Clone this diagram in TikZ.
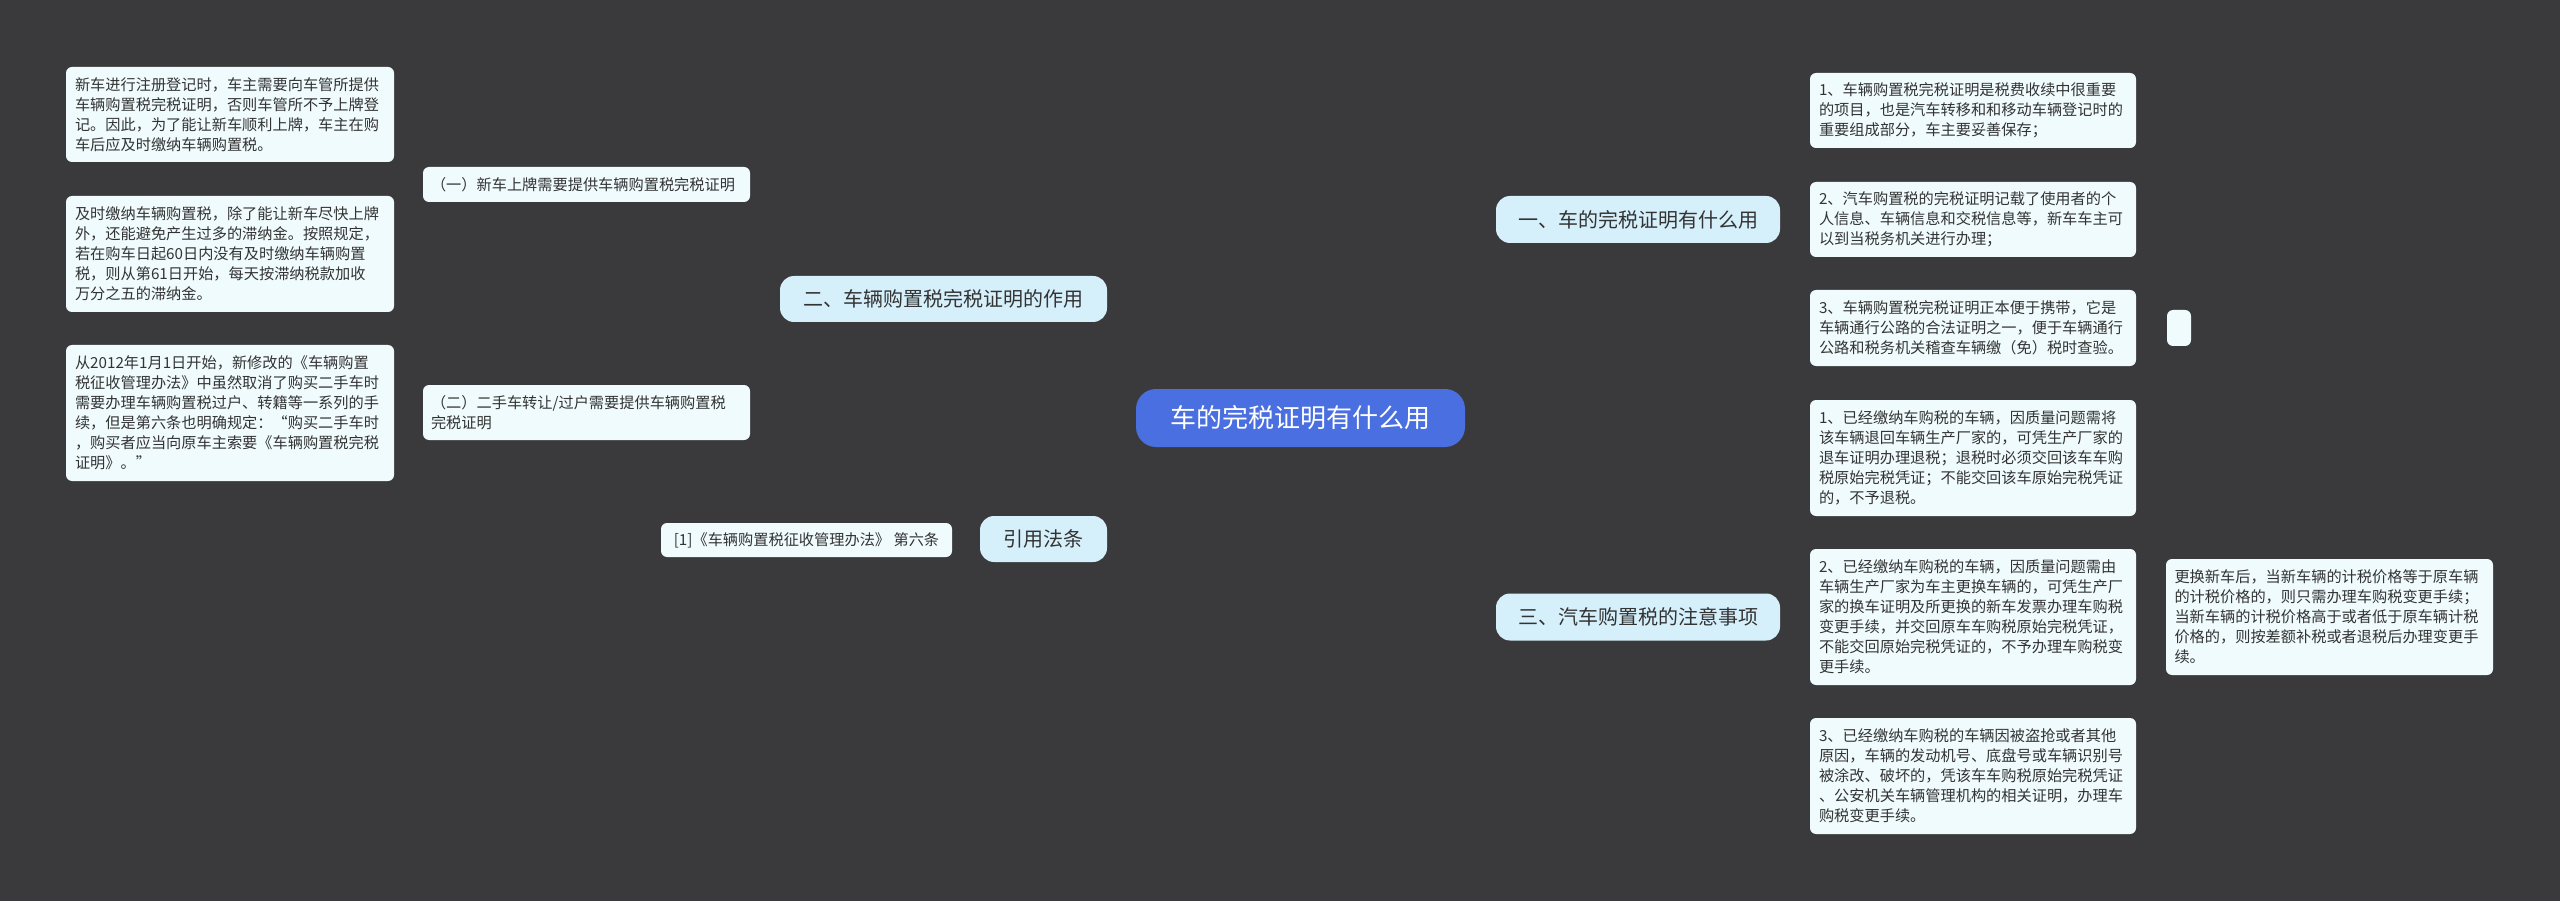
\documentclass[tikz,border=0pt]{standalone}
\usepackage{fontspec}
\setmainfont{Noto Sans CJK SC}
\usetikzlibrary{backgrounds}
\definecolor{bg}{HTML}{3A3A3C}
\definecolor{ln}{HTML}{5B78E0}
\definecolor{leaf}{HTML}{F0FBFD}
\definecolor{br}{HTML}{D6F0FB}
\definecolor{rt}{HTML}{4A6FE0}
\definecolor{tx}{HTML}{333333}
\tikzset{
 box/.style={rounded corners=6pt,inner sep=0pt,anchor=center,text=tx},
 leafbox/.style={box,fill=leaf,align=left,font=\fontsize{15.2}{20}\selectfont},
 subbox/.style={box,fill=leaf,align=left,font=\fontsize{15.2}{20}\selectfont},
 brbox/.style={box,fill=br,rounded corners=14pt,font=\fontsize{20}{24}\selectfont},
 conn/.style={draw=ln,line width=2.2pt,rounded corners=9pt},
}
\newcommand{\lbox}[6]{\node[leafbox,minimum width=#3,minimum height=#4,text width=#5] (#1) at #2 {#6};}
\begin{document}
\begin{tikzpicture}[x=1pt,y=-1pt]
\fill[bg] (0,0) rectangle (2560,901);
\useasboundingbox (0,0) rectangle (2560,901);
% root and branches
\node[box,fill=rt,text=white,rounded corners=20pt,minimum width=329,minimum height=58,font=\fontsize{26}{30}\selectfont] (root) at (1300.5,418) {车的完税证明有什么用};
\node[brbox,minimum width=284,minimum height=47] (b1) at (1638,219.5) {一、车的完税证明有什么用};
\node[brbox,minimum width=284,minimum height=47] (b3) at (1638,617) {三、汽车购置税的注意事项};
\node[brbox,minimum width=327,minimum height=46] (b2) at (943.5,299) {二、车辆购置税完税证明的作用};
\node[brbox,minimum width=127,minimum height=46] (ref) at (1043.5,539) {引用法条};
\node[subbox,minimum width=291,minimum height=34,align=center] (refl) at (806.5,540) {[1]《车辆购置税征收管理办法》 第六条};
% right leaves
\lbox{r1}{(1973,110.5)}{326}{75}{308}{1、车辆购置税完税证明是税费收续中很重要\\的项目，也是汽车转移和和移动车辆登记时的\\重要组成部分，车主要妥善保存；}
\lbox{r2}{(1973,219.5)}{326}{75}{308}{2、汽车购置税的完税证明记载了使用者的个\\人信息、车辆信息和交税信息等，新车车主可\\以到当税务机关进行办理；}
\lbox{r3}{(1973,328)}{326}{76}{308}{3、车辆购置税完税证明正本便于携带，它是\\车辆通行公路的合法证明之一，便于车辆通行\\公路和税务机关稽查车辆缴（免）税时查验。}
\node[box,fill=leaf,minimum width=24,minimum height=36] (emp) at (2179,328) {};
\lbox{s1}{(1973,458)}{326}{116}{308}{1、已经缴纳车购税的车辆，因质量问题需将\\该车辆退回车辆生产厂家的，可凭生产厂家的\\退车证明办理退税；退税时必须交回该车车购\\税原始完税凭证；不能交回该车原始完税凭证\\的，不予退税。}
\lbox{s2}{(1973,617)}{326}{136}{308}{2、已经缴纳车购税的车辆，因质量问题需由\\车辆生产厂家为车主更换车辆的，可凭生产厂\\家的换车证明及所更换的新车发票办理车购税\\变更手续，并交回原车车购税原始完税凭证，\\不能交回原始完税凭证的，不予办理车购税变\\更手续。}
\lbox{s3}{(1973,776)}{326}{116}{308}{3、已经缴纳车购税的车辆因被盗抢或者其他\\原因，车辆的发动机号、底盘号或车辆识别号\\被涂改、破坏的，凭该车车购税原始完税凭证\\、公安机关车辆管理机构的相关证明，办理车\\购税变更手续。}
\lbox{s2r}{(2329.5,617)}{327}{116}{310}{更换新车后，当新车辆的计税价格等于原车辆\\的计税价格的，则只需办理车购税变更手续；\\当新车辆的计税价格高于或者低于原车辆计税\\价格的，则按差额补税或者退税后办理变更手\\续。}
% left
\node[subbox,minimum width=327,minimum height=35,text width=311] (u1) at (586.5,184.5) {（一）新车上牌需要提供车辆购置税完税证明};
\node[subbox,minimum width=327,minimum height=55,text width=311] (u2) at (586.5,412.5) {（二）二手车转让/过户需要提供车辆购置税\\完税证明};
\lbox{l1}{(230,114.5)}{328}{95}{310}{新车进行注册登记时，车主需要向车管所提供\\车辆购置税完税证明，否则车管所不予上牌登\\记。因此，为了能让新车顺利上牌，车主在购\\车后应及时缴纳车辆购置税。}
\lbox{l2}{(230,254)}{328}{116}{310}{及时缴纳车辆购置税，除了能让新车尽快上牌\\外，还能避免产生过多的滞纳金。按照规定，\\若在购车日起60日内没有及时缴纳车辆购置\\税，则从第61日开始，每天按滞纳税款加收\\万分之五的滞纳金。}
\lbox{l3}{(230,413)}{328}{136}{310}{从2012年1月1日开始，新修改的《车辆购置\\税征收管理办法》中虽然取消了购买二手车时\\需要办理车辆购置税过户、转籍等一系列的手\\续，但是第六条也明确规定：“购买二手车时\\，购买者应当向原车主索要《车辆购置税完税\\证明》。”}
\begin{pgfonlayer}{background}
\draw[conn] (root.center) .. controls (1300,219.5) and (1400,219.5) .. (b1.west);
\draw[conn] (root.center) .. controls (1300,617) and (1400,617) .. (b3.west);
\draw[conn] (root.center) .. controls (1300,299) and (1200,299) .. (b2.east);
\draw[conn] (root.center) .. controls (1300,539) and (1200,539) .. (ref.east);
\foreach \c in {r1,r2,r3} \draw[conn] (b1.east) -- ++(15,0) |- (\c.west);
\foreach \c in {s1,s2,s3} \draw[conn] (b3.east) -- ++(15,0) |- (\c.west);
\foreach \c in {u1,u2} \draw[conn] (b2.west) -- ++(-15,0) |- (\c.east);
\foreach \c in {l1,l2} \draw[conn] (u1.west) -- ++(-14,0) |- (\c.east);
\draw[conn] (u2.west) -- (l3.east);
\draw[conn] (ref.west) -- (refl.east);
\draw[conn] (r3.east) -- (emp.west);
\draw[conn] (s2.east) -- (s2r.west);
\end{pgfonlayer}
\end{tikzpicture}
\end{document}
